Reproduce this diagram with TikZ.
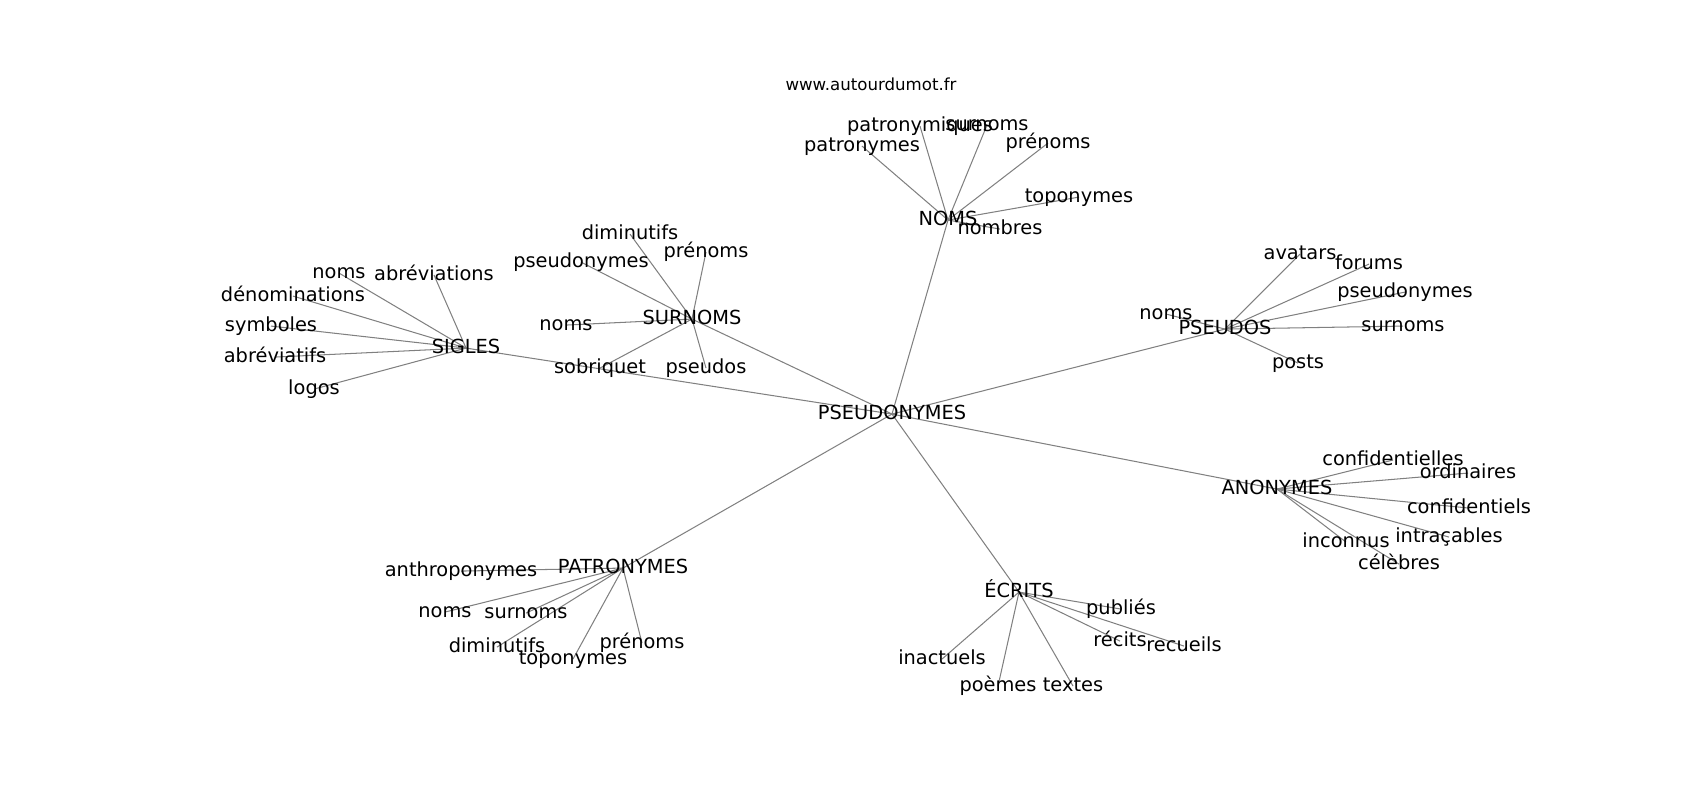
\documentclass[tikz,border=0pt]{standalone}
\usepackage{fontspec}
\setmainfont{DejaVu Sans}
\usetikzlibrary{backgrounds}
\tikzset{
  wort/.style={inner sep=0pt, anchor=center, yshift=-1.5pt, text height=0.73em, text depth=0pt, font=\fontsize{14}{16}\selectfont},
  kante/.style={draw=black!50, line width=0.75pt}
}
\begin{document}
\begin{tikzpicture}[x=0.01in, y=-0.01in]
    \useasboundingbox (0,0) rectangle (1700,800);

    % Titel
    \node[wort, font=\fontsize{12}{14}\selectfont] (titel) at (871,83) {www.autourdumot.fr};

    % Zentrum
    \node[wort] (pseudonymes) at (892,412) {PSEUDONYMES};

    % NOMS
    \node[wort] (noms) at (948,218) {NOMS};
    \node[wort] (nPatronymes) at (862,144) {patronymes};
    \node[wort] (nPatronymiques) at (920,124) {patronymiques};
    \node[wort] (nSurnoms) at (987,123) {surnoms};
    \node[wort] (nPrenoms) at (1048,141) {prénoms};
    \node[wort] (nToponymes) at (1079,195) {toponymes};
    \node[wort] (nNombres) at (1000,227) {nombres};

    % SURNOMS
    \node[wort] (surnoms) at (692,317) {SURNOMS};
    \node[wort] (sDiminutifs) at (630,232) {diminutifs};
    \node[wort] (sPrenoms) at (706,250) {prénoms};
    \node[wort] (sPseudonymes) at (581,260) {pseudonymes};
    \node[wort] (sNoms) at (566,323) {noms};
    \node[wort] (sSobriquet) at (600,366) {sobriquet};
    \node[wort] (sPseudos) at (706,366) {pseudos};

    % SIGLES
    \node[wort] (sigles) at (466,346) {SIGLES};
    \node[wort] (gNoms) at (339,271) {noms};
    \node[wort] (gAbreviations) at (434,273) {abréviations};
    \node[wort] (gDenominations) at (293,294) {dénominations};
    \node[wort] (gSymboles) at (271,324) {symboles};
    \node[wort] (gAbreviatifs) at (275,355) {abréviatifs};
    \node[wort] (gLogos) at (314,387) {logos};

    % PSEUDOS
    \node[wort] (pseudos) at (1225,327) {PSEUDOS};
    \node[wort] (pNoms) at (1166,312) {noms};
    \node[wort] (pAvatars) at (1300,252) {avatars};
    \node[wort] (pForums) at (1369,262) {forums};
    \node[wort] (pPseudonymes) at (1405,290) {pseudonymes};
    \node[wort] (pSurnoms) at (1403,324) {surnoms};
    \node[wort] (pPosts) at (1298,361) {posts};

    % ANONYMES
    \node[wort] (anonymes) at (1277,487) {ANONYMES};
    \node[wort] (aConfidentielles) at (1393,458) {confidentielles};
    \node[wort] (aOrdinaires) at (1468,471) {ordinaires};
    \node[wort] (aConfidentiels) at (1469,506) {confidentiels};
    \node[wort] (aIntracables) at (1449,535) {intraçables};
    \node[wort] (aInconnus) at (1346,540) {inconnus};
    \node[wort] (aCelebres) at (1399,562) {célèbres};

    % PATRONYMES
    \node[wort] (patronymes) at (623,566) {PATRONYMES};
    \node[wort] (tAnthroponymes) at (461,569) {anthroponymes};
    \node[wort] (tNoms) at (445,610) {noms};
    \node[wort] (tSurnoms) at (526,611) {surnoms};
    \node[wort] (tDiminutifs) at (497,645) {diminutifs};
    \node[wort] (tToponymes) at (573,657) {toponymes};
    \node[wort] (tPrenoms) at (642,641) {prénoms};

    % ECRITS
    \node[wort] (ecrits) at (1019,590) {ÉCRITS};
    \node[wort] (ePublies) at (1121,607) {publiés};
    \node[wort] (eRecits) at (1120,639) {récits};
    \node[wort] (eRecueils) at (1184,644) {recueils};
    \node[wort] (eInactuels) at (942,657) {inactuels};
    \node[wort] (ePoemes) at (998,684) {poèmes};
    \node[wort] (eTextes) at (1073,684) {textes};

    % Kanten
    \begin{scope}[on background layer]
        \foreach \b in {noms,surnoms,sigles,pseudos,anonymes,patronymes,ecrits}
            \draw[kante] (pseudonymes.center) -- (\b.center);
        \foreach \b in {nPatronymes,nPatronymiques,nSurnoms,nPrenoms,nToponymes,nNombres}
            \draw[kante] (noms.center) -- (\b.center);
        \foreach \b in {sDiminutifs,sPrenoms,sPseudonymes,sNoms,sSobriquet,sPseudos}
            \draw[kante] (surnoms.center) -- (\b.center);
        \foreach \b in {gNoms,gAbreviations,gDenominations,gSymboles,gAbreviatifs,gLogos}
            \draw[kante] (sigles.center) -- (\b.center);
        \foreach \b in {pNoms,pAvatars,pForums,pPseudonymes,pSurnoms,pPosts}
            \draw[kante] (pseudos.center) -- (\b.center);
        \foreach \b in {aConfidentielles,aOrdinaires,aConfidentiels,aIntracables,aInconnus,aCelebres}
            \draw[kante] (anonymes.center) -- (\b.center);
        \foreach \b in {tAnthroponymes,tNoms,tSurnoms,tDiminutifs,tToponymes,tPrenoms}
            \draw[kante] (patronymes.center) -- (\b.center);
        \foreach \b in {ePublies,eRecits,eRecueils,eInactuels,ePoemes,eTextes}
            \draw[kante] (ecrits.center) -- (\b.center);
    \end{scope}
\end{tikzpicture}
\end{document}
